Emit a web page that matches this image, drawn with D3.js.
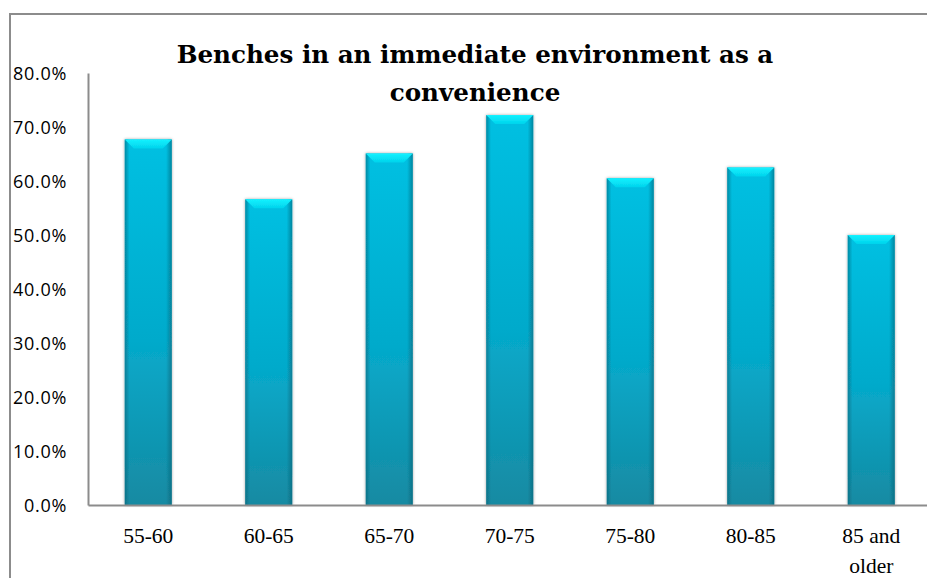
<!DOCTYPE html>
<html>
<head>
<meta charset="utf-8">
<script src="https://cdn.jsdelivr.net/npm/d3@7"></script>
<style>
  html, body { margin: 0; padding: 0; background: #fff; overflow: hidden; }
  svg { display: block; }
</style>
</head>
<body>
<svg id="chart" width="927" height="578"></svg>
<script>
// Share of respondents who consider benches nearby a convenience, by age group
const categories = ["55-60", "60-65", "65-70", "70-75", "75-80", "80-85", "85 and older"];
const values = [0.677, 0.566, 0.651, 0.722, 0.605, 0.625, 0.500];
const yTicks = [0, 0.1, 0.2, 0.3, 0.4, 0.5, 0.6, 0.7, 0.8];
const titleLines = ["Benches in an immediate environment as a", "convenience"];

const svg = d3.select("#chart");
const W = 927, H = 578;
const plot = { left: 88, top: 73, right: 931.5, bottom: 505 };
const serif = "'Liberation Serif', 'DejaVu Serif', serif";
const titleFont = "'DejaVu Serif', 'Liberation Serif', serif";
const sans = "'Open Sans', 'Liberation Sans', sans-serif";

const defs = svg.append("defs");

// Vertical body shading: bright cyan at top to deeper teal at the base
const body = defs.append("linearGradient").attr("id", "barBody")
  .attr("x1", 0).attr("y1", 0).attr("x2", 0).attr("y2", 1);
body.append("stop").attr("offset", "0%").attr("stop-color", "#00c0e2");
body.append("stop").attr("offset", "55%").attr("stop-color", "#05aacb");
body.append("stop").attr("offset", "100%").attr("stop-color", "#168aa2");

// Side shading to give the column a rounded look
const side = defs.append("linearGradient").attr("id", "barSide")
  .attr("x1", 0).attr("y1", 0).attr("x2", 1).attr("y2", 0);
side.append("stop").attr("offset", "0%").attr("stop-color", "#0a5f72").attr("stop-opacity", 0.55);
side.append("stop").attr("offset", "10%").attr("stop-color", "#0a5f72").attr("stop-opacity", 0.0);
side.append("stop").attr("offset", "88%").attr("stop-color", "#0a5f72").attr("stop-opacity", 0.0);
side.append("stop").attr("offset", "100%").attr("stop-color", "#0a5f72").attr("stop-opacity", 0.6);

// Top bevel highlight
const bevel = defs.append("linearGradient").attr("id", "barBevel")
  .attr("x1", 0).attr("y1", 0).attr("x2", 0).attr("y2", 1);
bevel.append("stop").attr("offset", "0%").attr("stop-color", "#14f2ff");
bevel.append("stop").attr("offset", "100%").attr("stop-color", "#00d3ec");

const shadow = defs.append("filter").attr("id", "barShadow")
  .attr("x", "-20%").attr("y", "-5%").attr("width", "140%").attr("height", "110%");
shadow.append("feGaussianBlur").attr("in", "SourceAlpha").attr("stdDeviation", 1.6).attr("result", "b");
shadow.append("feComponentTransfer").attr("in", "b").attr("result", "s")
  .append("feFuncA").attr("type", "linear").attr("slope", 0.35);
const merge = shadow.append("feMerge");
merge.append("feMergeNode").attr("in", "s");
merge.append("feMergeNode").attr("in", "SourceGraphic");

// Outer chart frame (continues past the right and bottom edges)
svg.append("rect")
  .attr("x", 10).attr("y", 14)
  .attr("width", W + 20).attr("height", H + 20)
  .attr("fill", "none").attr("stroke", "#8c8c8c").attr("stroke-width", 2);

const x = d3.scaleBand().domain(categories).range([plot.left, plot.right]).paddingInner(0.61).paddingOuter(0.305);
const y = d3.scaleLinear().domain([0, 0.8]).range([plot.bottom, plot.top]);

// Bars
const bars = svg.append("g").selectAll("g.bar").data(categories.map((c, i) => ({ c, v: values[i] })))
  .join("g").attr("class", "bar").attr("filter", "url(#barShadow)");

bars.append("rect")
  .attr("x", d => x(d.c)).attr("y", d => y(d.v))
  .attr("width", x.bandwidth()).attr("height", d => y(0) - y(d.v))
  .attr("fill", "url(#barBody)");
bars.append("rect")
  .attr("x", d => x(d.c)).attr("y", d => y(d.v))
  .attr("width", x.bandwidth()).attr("height", d => y(0) - y(d.v))
  .attr("fill", "url(#barSide)");
bars.append("path")
  .attr("d", d => {
    const x0 = x(d.c), x1 = x0 + x.bandwidth(), t = y(d.v), b = 9;
    return `M${x0},${t}L${x1},${t}L${x1 - b},${t + b}L${x0 + b},${t + b}Z`;
  })
  .attr("fill", "url(#barBevel)");

// Y axis
const yAxis = svg.append("g").attr("transform", `translate(${plot.left},0)`)
  .call(d3.axisLeft(y).tickValues(yTicks).tickFormat(d3.format(".1%")).tickSize(0).tickPadding(21));
yAxis.select(".domain").attr("stroke", "#8c8c8c").attr("stroke-width", 2);
yAxis.selectAll("text")
  .attr("font-family", sans)
  .attr("font-size", 18).attr("letter-spacing", 0.7).attr("fill", "#000").attr("dy", "0.35em");

// X axis
const xAxis = svg.append("g").attr("transform", `translate(0,${plot.bottom})`)
  .call(d3.axisBottom(x).tickSize(0).tickFormat(""));
xAxis.select(".domain").attr("stroke", "#8c8c8c").attr("stroke-width", 2);

const xl = svg.append("g").selectAll("text").data(categories).join("text")
  .attr("x", d => x(d) + x.bandwidth() / 2)
  .attr("y", 543)
  .attr("text-anchor", "middle")
  .attr("font-family", serif)
  .attr("font-size", 21.5).attr("fill", "#000");
xl.each(function(d) {
  const t = d3.select(this);
  const parts = d === "85 and older" ? ["85 and", "older"] : [d];
  parts.forEach((p, i) => {
    t.append("tspan").attr("x", x(d) + x.bandwidth() / 2).attr("dy", i === 0 ? 0 : 30).text(p);
  });
});

// Title
const title = svg.append("text")
  .attr("x", 475).attr("y", 63)
  .attr("text-anchor", "middle")
  .attr("font-family", titleFont)
  .attr("font-weight", "bold").attr("font-size", 24.6).attr("fill", "#000");
title.selectAll("tspan").data(titleLines).join("tspan")
  .attr("x", 475).attr("dy", (d, i) => i === 0 ? 0 : 38).text(d => d);
</script>
</body>
</html>
